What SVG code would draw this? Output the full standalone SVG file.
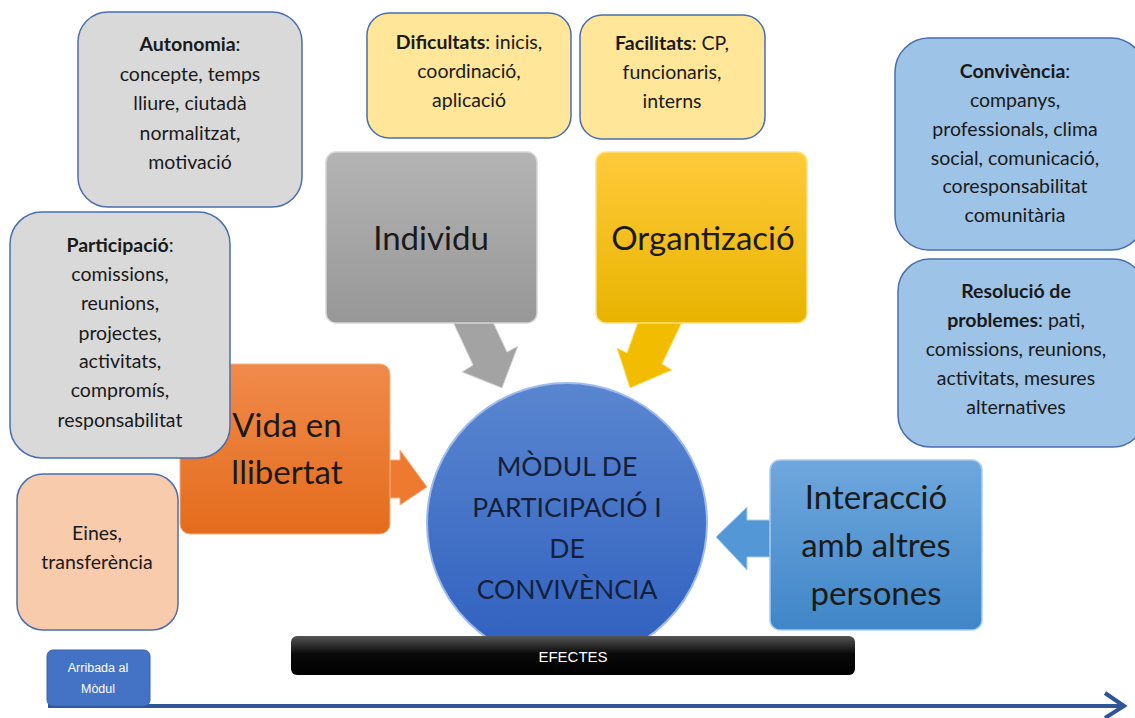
<svg xmlns="http://www.w3.org/2000/svg" width="1135" height="718" viewBox="0 0 1135 718">
<defs>
<linearGradient id="gGray" x1="0" y1="0" x2="0" y2="1"><stop offset="0" stop-color="#b4b4b4"/><stop offset="1" stop-color="#979797"/></linearGradient>
<linearGradient id="gYel" x1="0" y1="0" x2="0" y2="1"><stop offset="0" stop-color="#ffca3a"/><stop offset="1" stop-color="#e8b400"/></linearGradient>
<linearGradient id="gOr" x1="0" y1="0" x2="0" y2="1"><stop offset="0" stop-color="#f08a4b"/><stop offset="1" stop-color="#e46c1c"/></linearGradient>
<linearGradient id="gBlue" x1="0" y1="0" x2="0" y2="1"><stop offset="0" stop-color="#6fa7dd"/><stop offset="1" stop-color="#3f86c8"/></linearGradient>
<linearGradient id="gCirc" x1="0" y1="0" x2="0" y2="1"><stop offset="0" stop-color="#5a86d0"/><stop offset="1" stop-color="#2f5fbf"/></linearGradient>
<linearGradient id="gBlack" x1="0" y1="0" x2="0" y2="1"><stop offset="0" stop-color="#555"/><stop offset="0.45" stop-color="#0a0a0a"/><stop offset="1" stop-color="#000"/></linearGradient>
</defs>
<style>
.note{stroke:#4a6fae;stroke-width:1.5}
.t{font-family:Lato,"Noto Sans",sans-serif;font-size:19.5px;fill:#1a1a1a;text-anchor:middle}
.b{font-weight:bold}
.big{font-family:Lato,"Noto Sans",sans-serif;font-size:33px;fill:#1a1a1a;text-anchor:middle}
.mid{font-family:Lato,"Noto Sans",sans-serif;font-size:26.5px;fill:#14203a;text-anchor:middle}
.sm{font-family:"Liberation Sans",Arial,sans-serif;font-size:12.5px;fill:#ffffff;text-anchor:middle}
</style>
<rect width="1135" height="718" fill="#ffffff"/>

<g id="connectors">
<polygon points="453,322 493,322 507,352 518,346 502,388 462,372 473,365" fill="#a3a3a3" stroke="#d8d8d8" stroke-width="1"/>
<polygon points="638,322 682,322 662,364 672,370 630,388 617,348 627,353" fill="#f2bd00" stroke="#ffe27a" stroke-width="1"/>
<polygon points="388,460 400,460 400,450 427,487 400,505 400,498 388,498" fill="#ee7a30" stroke="#f7b283" stroke-width="1"/>
<polygon points="772,520 747,520 747,507 716,537 747,570 747,557 772,557" fill="#5497d6" stroke="#a9cdef" stroke-width="1"/>
<line x1="48" y1="706" x2="1122" y2="706" stroke="#2f5597" stroke-width="4"/>
<polyline points="1105,693 1124,706 1105,718" fill="none" stroke="#2f5597" stroke-width="4"/>
</g>

<g id="vida">
<rect x="180" y="364" width="210" height="170" rx="10" fill="url(#gOr)" stroke="#f7b283" stroke-width="1"/>
<text class="big" x="287" y="437">Vida en</text>
<text class="big" x="287" y="484">llibertat</text>
</g>

<g id="autonomia">
<rect class="note" x="78" y="12" width="224" height="195" rx="30" fill="#d9d9d9"/>
<text class="t" x="190" y="51"><tspan class="b">Autonomia</tspan>:</text>
<text class="t" x="190" y="81">concepte, temps</text>
<text class="t" x="190" y="110">lliure, ciutadà</text>
<text class="t" x="190" y="140">normalitzat,</text>
<text class="t" x="190" y="169">motivació</text>
</g>

<g id="participacio">
<rect class="note" x="10" y="212" width="220" height="246" rx="32" fill="#d9d9d9"/>
<text class="t" x="120" y="252"><tspan class="b">Participació</tspan>:</text>
<text class="t" x="120" y="281">comissions,</text>
<text class="t" x="120" y="310">reunions,</text>
<text class="t" x="120" y="340">projectes,</text>
<text class="t" x="120" y="368">activitats,</text>
<text class="t" x="120" y="397">compromís,</text>
<text class="t" x="120" y="427">responsabilitat</text>
</g>

<g id="eines">
<rect class="note" x="17" y="474" width="161" height="156" rx="26" fill="#f8cbad"/>
<text class="t" x="97" y="540">Eines,</text>
<text class="t" x="97" y="569">transferència</text>
</g>

<g id="dificultats">
<rect class="note" x="367" y="13" width="204" height="125" rx="22" fill="#ffe699"/>
<text class="t" x="469" y="49"><tspan class="b">Dificultats</tspan>: inicis,</text>
<text class="t" x="469" y="78">coordinació,</text>
<text class="t" x="469" y="107">aplicació</text>
</g>

<g id="facilitats">
<rect class="note" x="580" y="15" width="185" height="124" rx="22" fill="#ffe699"/>
<text class="t" x="672" y="50"><tspan class="b">Facilitats</tspan>: CP,</text>
<text class="t" x="672" y="79">funcionaris,</text>
<text class="t" x="672" y="108">interns</text>
</g>

<g id="individu">
<rect x="326" y="152" width="211" height="171" rx="10" fill="url(#gGray)" stroke="#d5d5d5" stroke-width="1.5"/>
<text class="big" x="431" y="250">Individu</text>
</g>

<g id="organtizacio">
<rect x="596" y="152" width="211" height="171" rx="10" fill="url(#gYel)" stroke="#ffe27a" stroke-width="1.5"/>
<text class="big" x="703" y="250">Organtizació</text>
</g>

<g id="convivencia">
<rect class="note" x="895" y="38" width="250" height="212" rx="34" fill="#9dc3e6"/>
<text class="t" x="1015" y="78"><tspan class="b">Convivència</tspan>:</text>
<text class="t" x="1015" y="107">companys,</text>
<text class="t" x="1015" y="136">professionals, clima</text>
<text class="t" x="1015" y="165">social, comunicació,</text>
<text class="t" x="1015" y="193">coresponsabilitat</text>
<text class="t" x="1015" y="222">comunitària</text>
</g>

<g id="resolucio">
<rect class="note" x="898" y="259" width="247" height="188" rx="32" fill="#9dc3e6"/>
<text class="t b" x="1016" y="298">Resolució de</text>
<text class="t" x="1016" y="327"><tspan class="b">problemes</tspan>: pati,</text>
<text class="t" x="1016" y="356">comissions, reunions,</text>
<text class="t" x="1016" y="385">activitats, mesures</text>
<text class="t" x="1016" y="414">alternatives</text>
</g>

<g id="modul">
<ellipse cx="567" cy="523" rx="140" ry="140" fill="url(#gCirc)" stroke="#9dbbeb" stroke-width="2"/>
<text class="mid" x="567" y="476">MÒDUL DE</text>
<text class="mid" x="567" y="517">PARTICIPACIÓ I</text>
<text class="mid" x="567" y="558">DE</text>
<text class="mid" x="567" y="599">CONVIVÈNCIA</text>
</g>

<g id="interaccio">
<rect x="770" y="460" width="212" height="170" rx="10" fill="url(#gBlue)" stroke="#a9cdef" stroke-width="1.5"/>
<text class="big" x="876" y="509">Interacció</text>
<text class="big" x="876" y="557">amb altres</text>
<text class="big" x="876" y="605">persones</text>
</g>

<g id="efectes">
<rect x="291" y="636" width="564" height="39" rx="6" fill="url(#gBlack)"/>
<text x="573" y="662" font-family="Liberation Sans,Arial,sans-serif" font-size="15" fill="#ffffff" text-anchor="middle">EFECTES</text>
</g>

<g id="arribada">
<rect x="47" y="650" width="103" height="56" rx="6" fill="#4472c4" stroke="#3a62aa" stroke-width="1"/>
<text class="sm" x="98" y="672">Arribada al</text>
<text class="sm" x="98" y="693">Mòdul</text>
</g>
</svg>
